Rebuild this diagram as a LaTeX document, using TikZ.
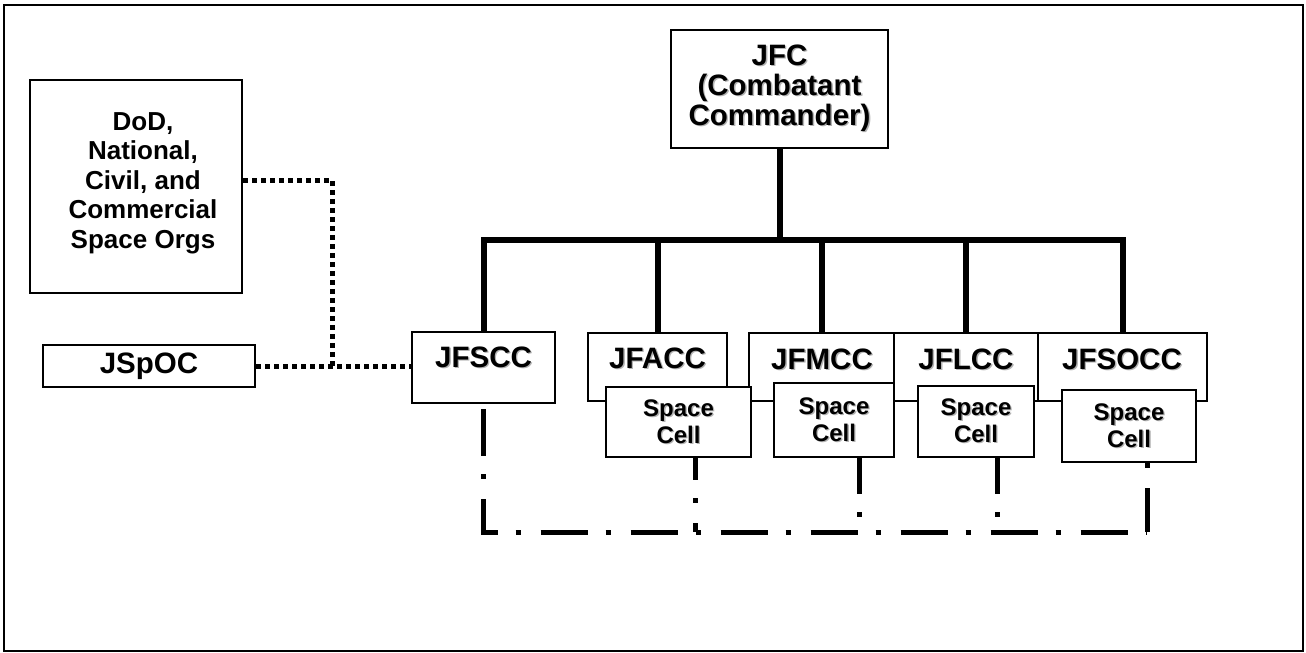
\documentclass[tikz,border=0pt]{standalone}
\usepackage{fontspec}
\setmainfont{Liberation Sans}
\newcommand\shd[1]{\leavevmode\rlap{\hspace{1.4pt}\raisebox{-1.4pt}{\textcolor{black!30}{#1}}}#1}
\begin{document}
\begin{tikzpicture}[x=1pt,y=-1pt,
  box/.style={draw=black, line width=2pt, fill=white, inner sep=0pt},
  big/.style={font=\bfseries\fontsize{29.5}{30}\selectfont, align=center},
  lbl/.style={inner sep=0pt, big},
  dodtxt/.style={inner sep=0pt, font=\bfseries\fontsize{26}{29.5}\selectfont, align=center},
  celltxt/.style={font=\bfseries\fontsize{24}{27}\selectfont, align=center},
  tree/.style={draw=black, line width=6pt, line join=miter},
  dd/.style={draw=black, line width=5pt, dash pattern=on 47pt off 18pt on 5pt off 20pt},
  dots/.style={draw=black, line width=5pt, dash pattern=on 5pt off 4pt}]
\useasboundingbox (0,0) rectangle (1306,653);
\node[draw=black, line width=2.5pt, inner sep=0pt, minimum width=1299pt, minimum height=646pt] (frame) at (653.5,328) {};

% top
\node[box, big, line width=2.5pt, minimum width=217pt, minimum height=118pt] (jfc) at (779.5,89)
  {\shd{JFC}\\\shd{(Combatant}\\\shd{Commander)}};

% left boxes
\node[box, minimum width=212pt, minimum height=213pt] (dod) at (136,186.5) {};
\node[dodtxt] (dodt) at (143,183) {DoD,\\National,\\Civil, and\\Commercial\\Space Orgs};
\node[box, big, minimum width=212pt, minimum height=42pt] (jspoc) at (149,366) {JSpOC};

% component boxes
\node[box, minimum width=143pt, minimum height=71pt] (jfscc) at (483.5,367.5) {};
\node[lbl] (jfscct) at (483.5,358) {\shd{JFSCC}};
\node[box, minimum width=139pt, minimum height=68pt] (jfacc) at (657.5,367) {};
\node[lbl] (jfacct) at (657.5,359) {\shd{JFACC}};
\node[box, minimum width=145pt, minimum height=68pt] (jfmcc) at (821.5,367) {};
\node[lbl] (jfmcct) at (822,360) {\shd{JFMCC}};
\node[box, minimum width=144pt, minimum height=68pt] (jflcc) at (966,367) {};
\node[lbl] (jflcct) at (966,360) {\shd{JFLCC}};
\node[box, minimum width=169pt, minimum height=68pt] (jfsocc) at (1122.5,367) {};
\node[lbl] (jfsocct) at (1122,360) {\shd{JFSOCC}};

% space cells
\node[box, celltxt, minimum width=145pt, minimum height=70pt] (sc1) at (678.5,422) {\shd{Space}\\\shd{Cell}};
\node[box, celltxt, minimum width=120pt, minimum height=74pt] (sc2) at (834,420) {\shd{Space}\\\shd{Cell}};
\node[box, celltxt, minimum width=116pt, minimum height=71pt] (sc3) at (976,421.5) {\shd{Space}\\\shd{Cell}};
\node[box, celltxt, minimum width=134pt, minimum height=72pt] (sc4) at (1129,426) {\shd{Space}\\\shd{Cell}};

% tree
\coordinate (bus) at (0,240);
\foreach \c in {jfscc,jfacc,jfmcc,jflcc,jfsocc}
  \draw[tree] (jfc.south) -- (jfc.south |- bus) -| (\c.north);

% dotted links
\coordinate (dj) at (332,0);
\draw[dots] ([yshift=6.5pt]dod.east) -| (dj |- jspoc.east);
\draw[dots] (jspoc.east) -- (jspoc.east -| jfscc.west);

% dash-dot links
\coordinate (ddend) at (1147,532);
\coordinate (d1) at (695,532);
\coordinate (d2) at (859,532);
\coordinate (d3) at (997,532);
\draw[dd] ([yshift=-5pt]jfscc.south) -- (jfscc.south |- ddend) -- (ddend);
\draw[dd, dash phase=25pt] (sc1.south -| d1) -- (d1);
\draw[dd, dash phase=11pt] (sc2.south -| d2) -- (d2);
\draw[dd, dash phase=11pt] (sc3.south -| d3) -- (d3);
\draw[dd, dash phase=65pt] (sc4.south -| ddend) -- (ddend);
\end{tikzpicture}
\end{document}
